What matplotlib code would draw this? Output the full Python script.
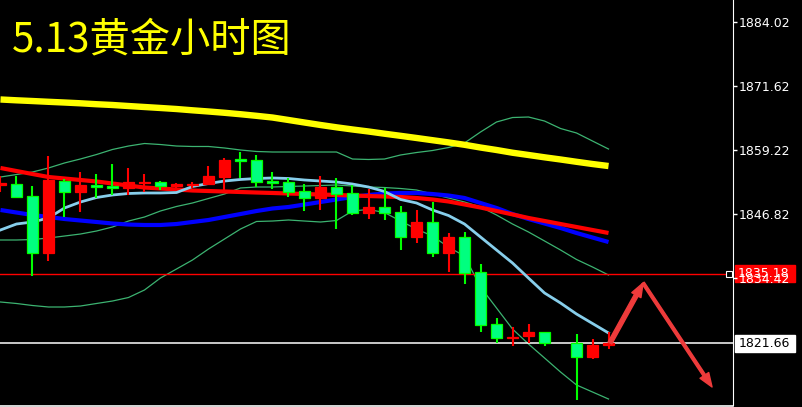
import numpy as np
import matplotlib
matplotlib.use("Agg")
import matplotlib.pyplot as plt
from matplotlib.patches import FancyArrowPatch, Rectangle
from matplotlib.transforms import blended_transform_factory

plt.rcParams['font.family'] = ['Noto Sans CJK SC', 'DejaVu Sans']

title = "5.13黄金小时图"

# hourly OHLC, bar 35 is missing on the chart
opens = [1852.40, 1852.59, 1850.26, 1839.21, 1853.17, 1851.04, 1852.40, 1852.20,
         1851.82, 1852.85, 1852.98, 1852.30, 1852.40, 1852.59, 1853.95, 1857.35,
         1857.25, 1853.17, 1852.98, 1851.24, 1849.88, 1852.01, 1850.85, 1846.97,
         1848.13, 1847.16, 1842.31, 1845.22, 1839.21, 1842.31, 1835.52, 1825.45,
         1822.81, 1823.10, 1823.88, np.nan, 1821.75, 1819.03, 1821.45]
highs = [1854.15, 1854.15, 1852.20, 1858.02, 1853.56, 1854.92, 1854.53, 1856.47,
         1855.70, 1854.53, 1853.17, 1852.79, 1852.98, 1856.08, 1857.64, 1858.80,
         1858.22, 1854.92, 1853.76, 1852.59, 1854.15, 1853.76, 1852.40, 1851.62,
         1851.82, 1848.32, 1847.55, 1849.10, 1843.09, 1843.28, 1837.07, 1826.60,
         1824.85, 1825.45, 1823.88, np.nan, 1823.49, 1822.52, 1823.88]
lows = [1851.04, 1849.88, 1834.74, 1837.66, 1846.19, 1847.16, 1849.88, 1850.46,
        1850.46, 1851.04, 1851.43, 1851.82, 1851.82, 1852.59, 1851.43, 1853.76,
        1852.01, 1851.62, 1850.07, 1847.36, 1847.55, 1843.86, 1846.58, 1845.80,
        1845.61, 1839.79, 1841.17, 1838.43, 1835.52, 1833.19, 1823.88, 1821.75,
        1821.17, 1821.75, 1821.17, np.nan, 1810.69, 1818.65, 1820.59]
closes = [1852.79, 1850.07, 1839.21, 1853.37, 1851.04, 1852.40, 1852.10, 1851.90,
          1852.98, 1853.05, 1852.20, 1852.50, 1852.59, 1854.15, 1857.25, 1857.15,
          1852.98, 1852.79, 1851.04, 1849.88, 1852.01, 1850.65, 1846.97, 1848.13,
          1846.97, 1842.31, 1845.22, 1839.21, 1842.31, 1835.33, 1825.24, 1822.71,
          1823.00, 1823.88, 1821.75, np.nan, 1819.03, 1821.36, 1821.65]

# moving averages
ma_yellow = [1868.99, 1868.83, 1868.69, 1868.54, 1868.40, 1868.25, 1868.07, 1867.92,
             1867.72, 1867.53, 1867.34, 1867.14, 1866.89, 1866.66, 1866.41, 1866.13,
             1865.82, 1865.49, 1865.01, 1864.52, 1864.04, 1863.59, 1863.17, 1862.78,
             1862.35, 1861.94, 1861.52, 1861.09, 1860.66, 1860.20, 1859.67, 1859.19,
             1858.66, 1858.22, 1857.77, 1857.35, 1856.90, 1856.47, 1856.08]
ma_red = [1855.70, 1855.11, 1854.53, 1853.95, 1853.66, 1853.37, 1853.08, 1852.69,
          1852.30, 1851.91, 1851.72, 1851.52, 1851.33, 1851.23, 1851.14, 1851.04,
          1850.94, 1850.85, 1850.75, 1850.65, 1850.56, 1850.46, 1850.36, 1850.26,
          1850.17, 1850.07, 1849.88, 1849.59, 1849.20, 1848.62, 1848.03, 1847.36,
          1846.69, 1846.00, 1845.42, 1844.83, 1844.25, 1843.67, 1843.09]
ma_blue = [1847.55, 1847.06, 1846.58, 1846.19, 1845.80, 1845.51, 1845.22, 1844.93,
           1844.73, 1844.64, 1844.64, 1844.83, 1845.22, 1845.61, 1846.19, 1846.77,
           1847.35, 1847.84, 1848.13, 1848.61, 1849.10, 1849.59, 1850.07, 1850.46,
           1850.75, 1850.85, 1850.85, 1850.65, 1850.36, 1849.88, 1848.91, 1847.94,
           1846.77, 1845.80, 1844.93, 1844.06, 1843.09, 1842.21, 1841.34]
ma_fast = [1843.67, 1844.83, 1845.22, 1846.00, 1847.94, 1849.10, 1849.97, 1850.46,
           1850.75, 1850.85, 1850.85, 1850.94, 1852.11, 1852.69, 1853.17, 1853.47,
           1853.66, 1853.76, 1853.66, 1853.37, 1853.17, 1852.98, 1852.59, 1852.01,
           1851.14, 1849.59, 1848.91, 1847.55, 1846.48, 1844.83, 1842.31, 1839.79,
           1837.27, 1834.34, 1831.45, 1829.51, 1827.37, 1825.53, 1823.69]

# bollinger bands
bb_upper = [1853.95, 1854.43, 1854.92, 1855.70, 1856.67, 1857.45, 1858.31, 1859.29,
            1859.96, 1860.45, 1860.25, 1859.96, 1859.87, 1859.87, 1859.58, 1859.19,
            1858.90, 1858.80, 1858.80, 1858.80, 1858.80, 1858.80, 1857.44, 1857.35,
            1857.44, 1858.22, 1858.70, 1859.09, 1859.67, 1860.55, 1862.68, 1864.62,
            1865.49, 1865.59, 1864.81, 1863.36, 1862.49, 1860.93, 1859.38]
bb_mid = [1841.73, 1841.73, 1841.82, 1842.11, 1842.50, 1842.89, 1843.47, 1844.25,
          1845.41, 1846.19, 1847.36, 1848.23, 1848.91, 1849.78, 1850.65, 1851.82,
          1852.01, 1852.01, 1852.11, 1852.20, 1852.30, 1852.40, 1852.20, 1852.01,
          1851.91, 1851.72, 1851.43, 1850.65, 1849.88, 1849.10, 1848.13, 1846.58,
          1844.83, 1843.28, 1841.54, 1839.79, 1837.95, 1836.49, 1834.94]
bb_lower = [1829.70, 1829.41, 1829.02, 1828.73, 1828.73, 1828.92, 1829.41, 1829.89,
            1830.57, 1832.03, 1834.36, 1836.10, 1837.85, 1839.98, 1841.92, 1843.86,
            1845.32, 1845.41, 1845.61, 1845.41, 1845.22, 1845.51, 1847.36, 1847.65,
            1847.06, 1845.41, 1843.86, 1842.49, 1840.35, 1838.62, 1832.61, 1828.54,
            1824.46, 1821.55, 1818.84, 1816.12, 1813.60, 1812.24, 1810.88]

y_ticks = [1884.02, 1871.62, 1859.22, 1846.82, 1834.42]
alert_price = 1835.18
last_price = 1821.66

# forecast arrows (bar index, price)
arrow_x = [38.09, 40.16, 44.47]
arrow_y = [1821.75, 1833.39, 1813.21]

o = np.array(opens)
h = np.array(highs)
l = np.array(lows)
c = np.array(closes)
idx = np.arange(len(o))
up = c >= o

fig = plt.figure(figsize=(8.02, 4.07), dpi=100, facecolor='black')
ax = fig.add_axes([0, 1.5 / 407, 733 / 802, 405.5 / 407])
ax.set_facecolor('black')

# bands and averages
for band in (bb_upper, bb_mid, bb_lower):
    ax.plot(idx, band, color='#3cb371', lw=0.9, zorder=2)
ax.plot(idx, ma_yellow, color='#ffff00', lw=4.6, zorder=3, solid_capstyle='butt')
ax.plot(idx, ma_blue, color='#0000ff', lw=3, zorder=3, solid_capstyle='butt')
ax.plot(idx, ma_red, color='#ff0000', lw=3, zorder=3.1, solid_capstyle='butt')
ax.plot(idx, ma_fast, color='#87ceeb', lw=2, zorder=3.2)

ax.axhline(alert_price, color='#ff0000', lw=1, zorder=2)
ax.axhline(last_price, color='white', lw=1.1, zorder=2)
ax.plot([45.53], [alert_price], marker='s', ms=4, mfc='black', mec='white',
        mew=0.8, clip_on=False, zorder=5)

# candles
wick_col = np.where(up, '#ff0000', '#00ff00')
body_col = np.where(up, '#ff0000', '#00ff7f')
edge_col = np.where(up, '#ff0000', '#00ff00')
ax.vlines(idx, l, h, colors=wick_col, lw=1.5, zorder=4)
ax.bar(idx, c - o, bottom=o, width=0.7, color=body_col, edgecolor=edge_col,
       linewidth=0.9, zorder=4.5)

# forecast arrows
for k in range(2):
    tw = 3 if k == 0 else 2
    arr = FancyArrowPatch((arrow_x[k], arrow_y[k]), (arrow_x[k + 1], arrow_y[k + 1]),
                          arrowstyle=f'simple,head_length=10,head_width=7.5,tail_width={tw}',
                          mutation_scale=1, color='#ee3b3b', shrinkA=0, shrinkB=0,
                          clip_on=False, zorder=6)
    ax.add_patch(arr)

ax.set_xlim(-0.03, 45.78)
ax.set_ylim(1809.62, 1888.29)

ax.yaxis.tick_right()
ax.set_yticks(y_ticks)
ax.set_yticklabels([f'{v:.2f}' for v in y_ticks], family='DejaVu Sans')
ax.tick_params(axis='y', colors='white', length=3, width=1, labelsize=9, pad=1)
ax.set_xticks([])
for side in ('top', 'left'):
    ax.spines[side].set_visible(False)
ax.spines['right'].set_color('white')
ax.spines['bottom'].set_color('white')
ax.spines['bottom'].set_linewidth(1.2)

# price boxes on the right scale
tr = blended_transform_factory(fig.transFigure, ax.transData)
box_h = 17 * 0.194
ax.add_patch(Rectangle((735 / 802, alert_price - box_h / 2), 60 / 802, box_h,
                       transform=tr, color='#ff0000', clip_on=False, zorder=1))
ax.text(738 / 802, alert_price, f'{alert_price:.2f}', transform=tr, color='white',
        fontsize=9, family='DejaVu Sans', va='center', ha='left', zorder=1.2, clip_on=False)
ax.add_patch(Rectangle((735 / 802, last_price - box_h / 2), 60 / 802, box_h,
                       transform=tr, color='white', clip_on=False, zorder=1))
ax.text(739 / 802, last_price, f'{last_price:.2f}', transform=tr, color='black',
        fontsize=9, family='DejaVu Sans', va='center', ha='left', zorder=1.2, clip_on=False)

fig.text(12 / 802, 1 - 51 / 407, title, color='#ffff00', fontsize=29,
         ha='left', va='baseline')

fig.savefig('out.png', dpi=100, facecolor='black')
